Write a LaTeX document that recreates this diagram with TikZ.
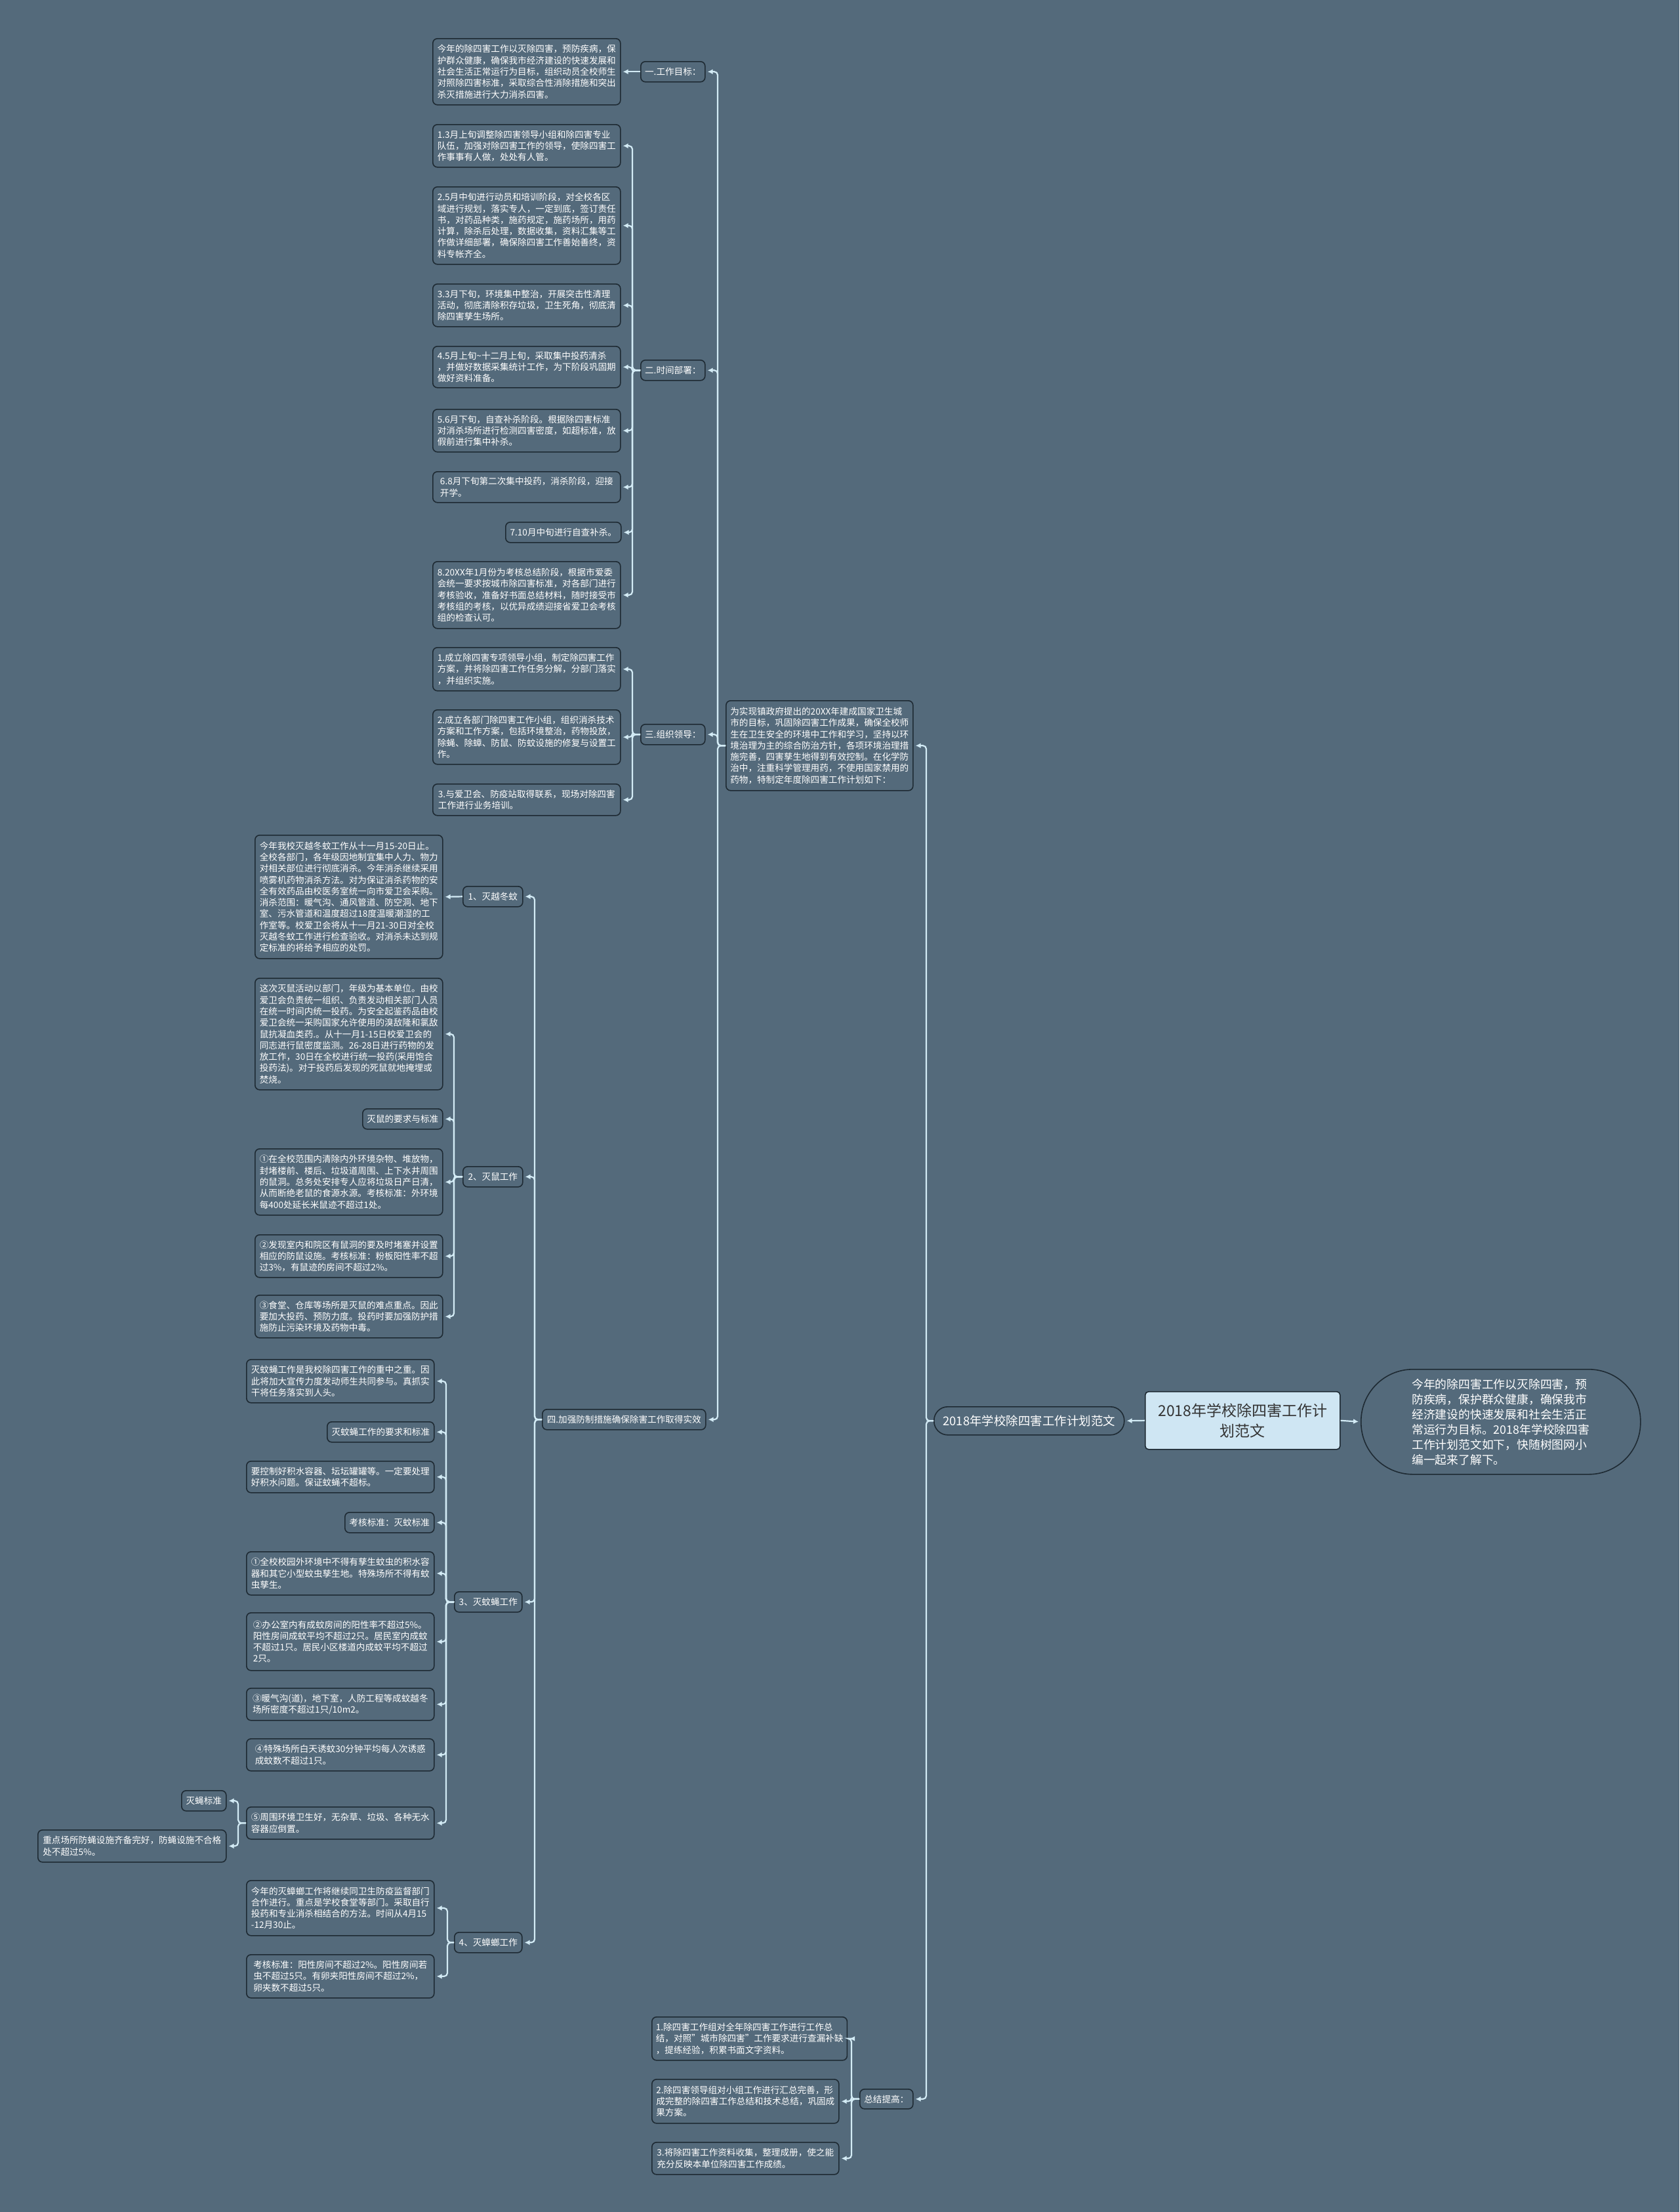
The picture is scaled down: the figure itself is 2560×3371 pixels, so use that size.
\documentclass[tikz,border=0pt]{standalone}
\usepackage{fontspec}
\setmainfont{Noto Sans CJK SC}
\usetikzlibrary{arrows.meta}
\definecolor{bg}{HTML}{546A7B}
\definecolor{bdr}{HTML}{1E2A33}
\definecolor{lc}{HTML}{D3EBF5}
\definecolor{rootf}{HTML}{CFE6F3}
\definecolor{roott}{HTML}{333333}
\tikzset{
  tb/.style={draw=bdr, line width=1.6pt, fill=bg, rounded corners=7pt, text=white,
    font=\fontsize{13.6}{17.3}\selectfont, align=left, inner xsep=6pt, inner ysep=3pt, anchor=north west},
  conn/.style={draw=lc, line width=2.2pt, rounded corners=5pt, shorten >=3pt, -{Latex[length=8pt,width=8pt]}},
}
\newcommand\mybox[6]{\node[tb,minimum width=#4pt,minimum height=#5pt] (#1) at (#2,#3) {#6};}
\begin{document}
\begin{tikzpicture}[x=1pt,y=-1pt]
\fill[bg] (0,0) rectangle (2560,3371);
\useasboundingbox (0,0) rectangle (2560,3371);
% buses
\coordinate (B0) at (1412,0);
\coordinate (B1) at (1094,0);
\coordinate (B2) at (964,0);
\coordinate (B4) at (815,0);
\coordinate (B42) at (692,0);
\coordinate (B43) at (680,0);
\coordinate (B435) at (363,0);
\coordinate (B44) at (682,0);
\coordinate (B5) at (1298,0);
% root level
\node[tb, fill=rootf, text=roott, align=center, font=\fontsize{23}{31}\selectfont, minimum width=297pt, minimum height=88pt, rounded corners=5pt] (root) at (1745,2120) {2018年学校除四害工作计\\划范文};
\node[tb, font=\fontsize{18.5}{22}\selectfont, align=center, minimum width=290pt, minimum height=43pt, rounded corners=21pt] (oval) at (1423,2143) {2018年学校除四害工作计划范文};
\node[tb, font=\fontsize{17.8}{23}\selectfont, minimum width=426pt, minimum height=160pt, rounded corners=79pt] (stad) at (2074,2086) {今年的除四害工作以灭除四害，预\\防疾病，保护群众健康，确保我市\\经济建设的快速发展和社会生活正\\常运行为目标。2018年学校除四害\\工作计划范文如下，快随树图网小\\编一起来了解下。};
% intro
\mybox{intro}{1106}{1067}{285}{137}{为实现镇政府提出的20XX年建成国家卫生城\\市的目标，巩固除四害工作成果，确保全校师\\生在卫生安全的环境中工作和学习，坚持以环\\境治理为主的综合防治方针，各项环境治理措\\施完善，四害孳生地得到有效控制。在化学防\\治中，注重科学管理用药，不使用国家禁用的\\药物，特制定年度除四害工作计划如下：}
% section 1
\mybox{g1}{976}{93}{98}{31}{一.工作目标：}
\mybox{g1t}{659}{58}{286}{101}{今年的除四害工作以灭除四害，预防疾病，保\\护群众健康，确保我市经济建设的快速发展和\\社会生活正常运行为目标，组织动员全校师生\\对照除四害标准，采取综合性消除措施和突出\\杀灭措施进行大力消杀四害。}
% section 2
\mybox{g2}{976}{548}{98}{31}{二.时间部署：}
\mybox{g2a}{659}{189}{286}{65}{1.3月上旬调整除四害领导小组和除四害专业\\队伍，加强对除四害工作的领导，使除四害工\\作事事有人做，处处有人管。}
\mybox{g2b}{659}{284}{286}{118}{2.5月中旬进行动员和培训阶段，对全校各区\\域进行规划，落实专人，一定到底，签订责任\\书，对药品种类，施药规定，施药场所，用药\\计算，除杀后处理，数据收集，资料汇集等工\\作做详细部署，确保除四害工作善始善终，资\\料专帐齐全。}
\mybox{g2c}{659}{432}{286}{65}{3.3月下旬，环境集中整治，开展突击性清理\\活动，彻底清除积存垃圾，卫生死角，彻底清\\除四害孳生场所。}
\mybox{g2d}{659}{527}{286}{63}{4.5月上旬\textasciitilde 十二月上旬，采取集中投药清杀\\，并做好数据采集统计工作，为下阶段巩固期\\做好资料准备。}
\mybox{g2e}{659}{623}{286}{65}{5.6月下旬，自查补杀阶段。根据除四害标准\\对消杀场所进行检测四害密度，如超标准，放\\假前进行集中补杀。}
\mybox{g2f}{659}{718}{286}{47}{6.8月下旬第二次集中投药，消杀阶段，迎接\\开学。}
\mybox{g2g}{770}{795}{176}{31}{7.10月中旬进行自查补杀。}
\mybox{g2h}{659}{855}{286}{102}{8.20XX年1月份为考核总结阶段，根据市爱委\\会统一要求按城市除四害标准，对各部门进行\\考核验收，准备好书面总结材料，随时接受市\\考核组的考核，以优异成绩迎接省爱卫会考核\\组的检查认可。}
% section 3
\mybox{g3}{976}{1103}{98}{31}{三.组织领导：}
\mybox{g3a}{659}{986}{286}{66}{1.成立除四害专项领导小组，制定除四害工作\\方案，并将除四害工作任务分解，分部门落实\\，并组织实施。}
\mybox{g3b}{659}{1081}{286}{83}{2.成立各部门除四害工作小组，组织消杀技术\\方案和工作方案，包括环境整治，药物投放，\\除蝇、除蟑、防鼠、防蚊设施的修复与设置工\\作。}
\mybox{g3c}{659}{1194}{286}{48}{3.与爱卫会、防疫站取得联系，现场对除四害\\工作进行业务培训。}
% section 4
\mybox{g4}{826}{2147}{249}{31}{四.加强防制措施确保除害工作取得实效}
\mybox{s1}{705}{1350}{91}{31}{1、灭越冬蚊}
\mybox{s1t}{388}{1272}{286}{188}{今年我校灭越冬蚊工作从十一月15-20日止。\\全校各部门，各年级因地制宜集中人力、物力\\对相关部位进行彻底消杀。今年消杀继续采用\\喷雾机药物消杀方法。对为保证消杀药物的安\\全有效药品由校医务室统一向市爱卫会采购。\\消杀范围：暖气沟、通风管道、防空洞、地下\\室、污水管道和温度超过18度温暖潮湿的工\\作室等。校爱卫会将从十一月21-30日对全校\\灭越冬蚊工作进行检查验收。对消杀未达到规\\定标准的将给予相应的处罚。}
\mybox{s2}{705}{1777}{91}{31}{2、灭鼠工作}
\mybox{s2a}{388}{1490}{286}{170}{这次灭鼠活动以部门，年级为基本单位。由校\\爱卫会负责统一组织、负责发动相关部门人员\\在统一时间内统一投药。为安全起鉴药品由校\\爱卫会统一采购国家允许使用的溴敌隆和氯敌\\鼠抗凝血类药.。从十一月1-15日校爱卫会的\\同志进行鼠密度监测。26-28日进行药物的发\\放工作，30日在全校进行统一投药(采用饱合\\投药法)。对于投药后发现的死鼠就地掩埋或\\焚烧。}
\mybox{s2b}{552}{1689}{122}{31}{灭鼠的要求与标准}
\mybox{s2c}{388}{1750}{286}{101}{①在全校范围内清除内外环境杂物、堆放物，\\封堵楼前、楼后、垃圾道周围、上下水井周围\\的鼠洞。总务处安排专人应将垃圾日产日清，\\从而断绝老鼠的食源水源。考核标准：外环境\\每400处延长米鼠迹不超过1处。}
\mybox{s2d}{388}{1881}{286}{65}{②发现室内和院区有鼠洞的要及时堵塞并设置\\相应的防鼠设施。考核标准：粉板阳性率不超\\过3\%，有鼠迹的房间不超过2\%。}
\mybox{s2e}{388}{1973}{286}{65}{③食堂、仓库等场所是灭鼠的难点重点。因此\\要加大投药、预防力度。投药时要加强防护措\\施防止污染环境及药物中毒。}
\mybox{s3}{692}{2425}{103}{31}{3、灭蚊蝇工作}
\mybox{s3a}{375}{2071}{286}{66}{灭蚊蝇工作是我校除四害工作的重中之重。因\\此将加大宣传力度发动师生共同参与。真抓实\\干将任务落实到人头。}
\mybox{s3b}{498}{2166}{163}{31}{灭蚊蝇工作的要求和标准}
\mybox{s3c}{375}{2226}{286}{48}{要控制好积水容器、坛坛罐罐等。一定要处理\\好积水问题。保证蚊蝇不超标。}
\mybox{s3d}{525}{2304}{136}{31}{考核标准：灭蚊标准}
\mybox{s3e}{375}{2364}{286}{66}{①全校校园外环境中不得有孳生蚊虫的积水容\\器和其它小型蚊虫孳生地。特殊场所不得有蚊\\虫孳生。}
\mybox{s3f}{375}{2457}{286}{88}{②办公室内有成蚊房间的阳性率不超过5\%。\\阳性房间成蚊平均不超过2只。居民室内成蚊\\不超过1只。居民小区楼道内成蚊平均不超过\\2只。}
\mybox{s3g}{375}{2572}{286}{49}{③暖气沟(道)，地下室，人防工程等成蚊越冬\\场所密度不超过1只/10m2。}
\mybox{s3h}{375}{2649}{286}{49}{④特殊场所白天诱蚊30分钟平均每人次诱惑\\成蚊数不超过1只。}
\mybox{s3i}{375}{2753}{286}{49}{⑤周围环境卫生好，无杂草、垃圾、各种无水\\容器应倒置。}
\mybox{s3i1}{276}{2728}{68}{31}{灭蝇标准}
\mybox{s3i2}{57}{2788}{287}{49}{重点场所防蝇设施齐备完好，防蝇设施不合格\\处不超过5\%。}
\mybox{s4}{692}{2944}{103}{31}{4、灭蟑螂工作}
\mybox{s4a}{375}{2865}{286}{84}{今年的灭蟑螂工作将继续同卫生防疫监督部门\\合作进行。重点是学校食堂等部门。采取自行\\投药和专业消杀相结合的方法。时间从4月15\\-12月30止。}
\mybox{s4b}{375}{2978}{286}{66}{考核标准：阳性房间不超过2\%。阳性房间若\\虫不超过5只。有卵夹阳性房间不超过2\%，\\卵夹数不超过5只。}
% summary
\mybox{zj}{1310}{3183}{81}{30}{总结提高：}
\mybox{zja}{993}{3073}{285}{66}{1.除四害工作组对全年除四害工作进行工作总\\结，对照\symbol{34}城市除四害\symbol{34}工作要求进行查漏补缺\\，提练经验，积累书面文字资料。}
\mybox{zjb}{993}{3168}{285}{67}{2.除四害领导组对小组工作进行汇总完善，形\\成完整的除四害工作总结和技术总结，巩固成\\果方案。}
\mybox{zjc}{993}{3264}{285}{49}{3.将除四害工作资料收集，整理成册，使之能\\充分反映本单位除四害工作成绩。}
% connectors
\draw[conn] (root.west) -- (oval.east);
\draw[conn] (root.east) -- (stad.west);
\foreach \c in {intro,zj} \draw[conn] (oval.west) -- (B0 |- oval.west) |- (\c.east);
\foreach \c in {g1,g2,g3,g4} \draw[conn] (intro.west) -- (B1 |- intro.west) |- (\c.east);
\draw[conn] (g1.west) -- (g1t.east);
\foreach \c in {g2a,g2b,g2c,g2d,g2e,g2f,g2g,g2h} \draw[conn] (g2.west) -- (B2 |- g2.west) |- (\c.east);
\foreach \c in {g3a,g3b,g3c} \draw[conn] (g3.west) -- (B2 |- g3.west) |- (\c.east);
\foreach \c in {s1,s2,s3,s4} \draw[conn] (g4.west) -- (B4 |- g4.west) |- (\c.east);
\draw[conn] (s1.west) -- (s1t.east);
\foreach \c in {s2a,s2b,s2c,s2d,s2e} \draw[conn] (s2.west) -- (B42 |- s2.west) |- (\c.east);
\foreach \c in {s3a,s3b,s3c,s3d,s3e,s3f,s3g,s3h,s3i} \draw[conn] (s3.west) -- (B43 |- s3.west) |- (\c.east);
\foreach \c in {s3i1,s3i2} \draw[conn] (s3i.west) -- (B435 |- s3i.west) |- (\c.east);
\foreach \c in {s4a,s4b} \draw[conn] (s4.west) -- (B44 |- s4.west) |- (\c.east);
\foreach \c in {zja,zjb,zjc} \draw[conn] (zj.west) -- (B5 |- zj.west) |- (\c.east);
\end{tikzpicture}
\end{document}
